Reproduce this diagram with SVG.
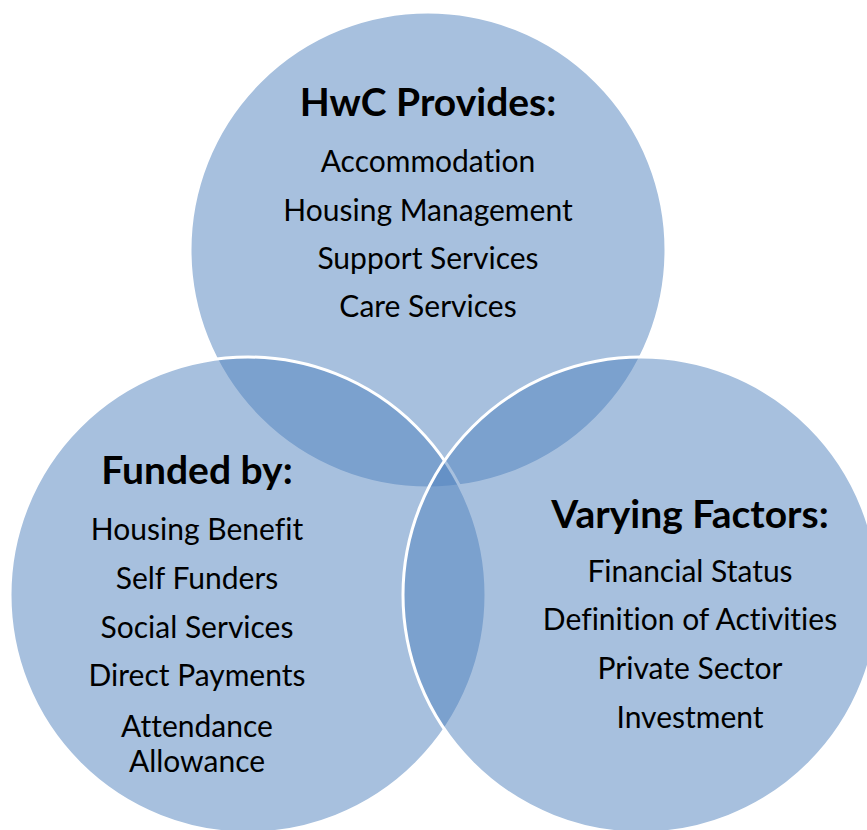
<svg xmlns="http://www.w3.org/2000/svg" width="867" height="830" viewBox="0 0 867 830">
<style>
.c{fill:#4F81BD;fill-opacity:0.5;stroke:#FFFFFF;stroke-width:3}
text{font-family:Lato,"Open Sans","Liberation Sans",sans-serif;fill:#000;text-anchor:middle;font-variant-ligatures:none;font-feature-settings:"liga" 0,"clig" 0}
.h{font-weight:bold;font-size:39px}
.t{font-size:30px}
</style>
<rect width="867" height="830" fill="#FFFFFF"/>
<g id="top"><circle class="c" cx="428" cy="250" r="238"/></g>
<g id="left"><circle class="c" cx="248" cy="595" r="238"/></g>
<g id="right"><circle class="c" cx="641" cy="595" r="238"/></g>
<g id="top-text">
<text class="h" x="428" y="116">HwC Provides:</text>
<text class="t" x="428" y="172">Accommodation</text>
<text class="t" x="428" y="221">Housing Management</text>
<text class="t" x="428" y="269">Support Services</text>
<text class="t" x="428" y="317">Care Services</text>
</g>
<g id="left-text">
<text class="h" x="197" y="484">Funded by:</text>
<text class="t" x="197" y="540">Housing Benefit</text>
<text class="t" x="197" y="589">Self Funders</text>
<text class="t" x="197" y="638">Social Services</text>
<text class="t" x="197" y="686">Direct Payments</text>
<text class="t" x="197" y="737">Attendance</text>
<text class="t" x="197" y="772">Allowance</text>
</g>
<g id="right-text">
<text class="h" x="690" y="528">Varying Factors:</text>
<text class="t" x="690" y="582">Financial Status</text>
<text class="t" x="690" y="630">Definition of Activities</text>
<text class="t" x="690" y="679">Private Sector</text>
<text class="t" x="690" y="728">Investment</text>
</g>
<g id="connectors"/>
</svg>
